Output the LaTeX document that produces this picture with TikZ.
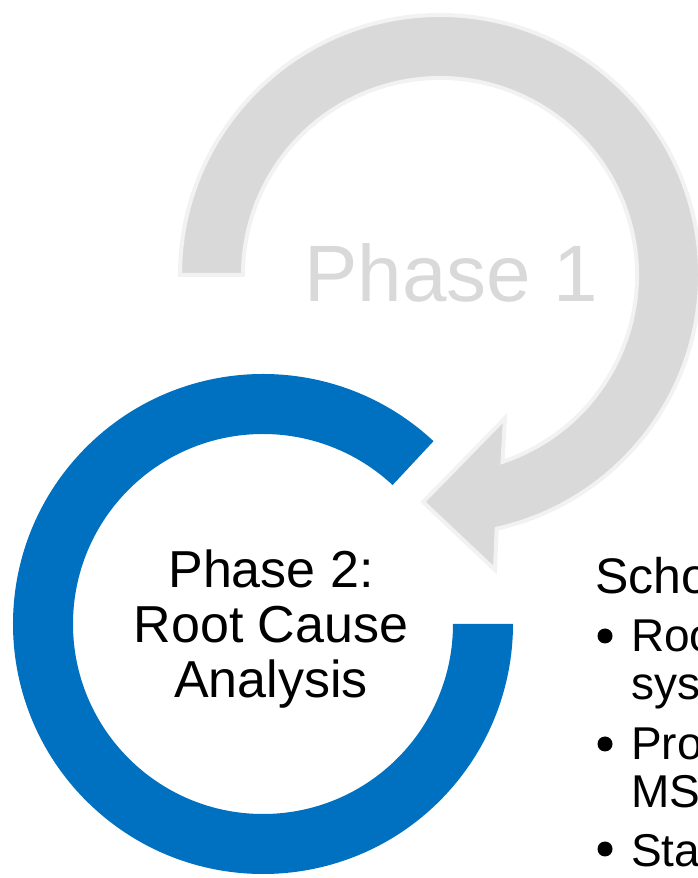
\documentclass[tikz,border=0pt]{standalone}
\usepackage{fontspec}
\setmainfont{Liberation Sans}
\definecolor{blueC}{RGB}{0,112,192}
\definecolor{grayC}{RGB}{217,217,217}
\definecolor{edgeC}{RGB}{242,242,242}
\begin{document}
\begin{tikzpicture}[x=1pt,y=1pt,
  rt/.style={anchor=base west, inner sep=0pt, font=\fontsize{46}{54}\selectfont},
  ct/.style={anchor=base, inner sep=0pt, font=\fontsize{52}{60}\selectfont},
  bul/.style={circle, fill=black, inner sep=0pt, minimum size=15pt}]
\useasboundingbox (0,0) rectangle (698,878);
\clip (0,0) rectangle (698,878);
\coordinate (c1) at (440,603);
\coordinate (c2) at (263,254);
% gray circular arrow (Phase 1)
\path[fill=grayC, draw=edgeC, line width=4pt, line join=miter]
  ([shift={(180:260)}]c1) arc[start angle=180, end angle=-77.4, radius=260]
  -- (495,308) -- (423,376) -- (505,460)
  -- ([shift={(-71.5:197)}]c1) arc[start angle=-71.5, end angle=180, radius=197]
  -- cycle;
\node[anchor=base west, inner sep=0pt, text=grayC, font=\fontsize{80}{96}\selectfont] (p1) at (304,576) {Phase 1};
% blue ring (Phase 2)
\fill[blueC] ([shift={(47:250)}]c2) arc[start angle=47, end angle=360, radius=250]
  -- ([shift={(0:190)}]c2) arc[start angle=360, end angle=47, radius=190] -- cycle;
\node[ct] (p2a) at (271,290) {Phase 2:};
\node[ct] (p2b) at (271,235) {Root Cause};
\node[ct] (p2c) at (271,180) {Analysis};
% right text
\node[rt, font=\fontsize{50}{58}\selectfont] (t0) at (595,284) {Scho};
\node[bul] (b1) at (605,242) {};
\node[rt] (t1) at (631,226) {Roo};
\node[rt] (t2) at (631,178) {sys};
\node[bul] (b2) at (605,134) {};
\node[rt] (t3) at (631,118) {Pro};
\node[rt] (t4) at (631,70) {MS};
\node[bul] (b3) at (605,29) {};
\node[rt] (t5) at (631,12) {Sta};
\end{tikzpicture}
\end{document}
